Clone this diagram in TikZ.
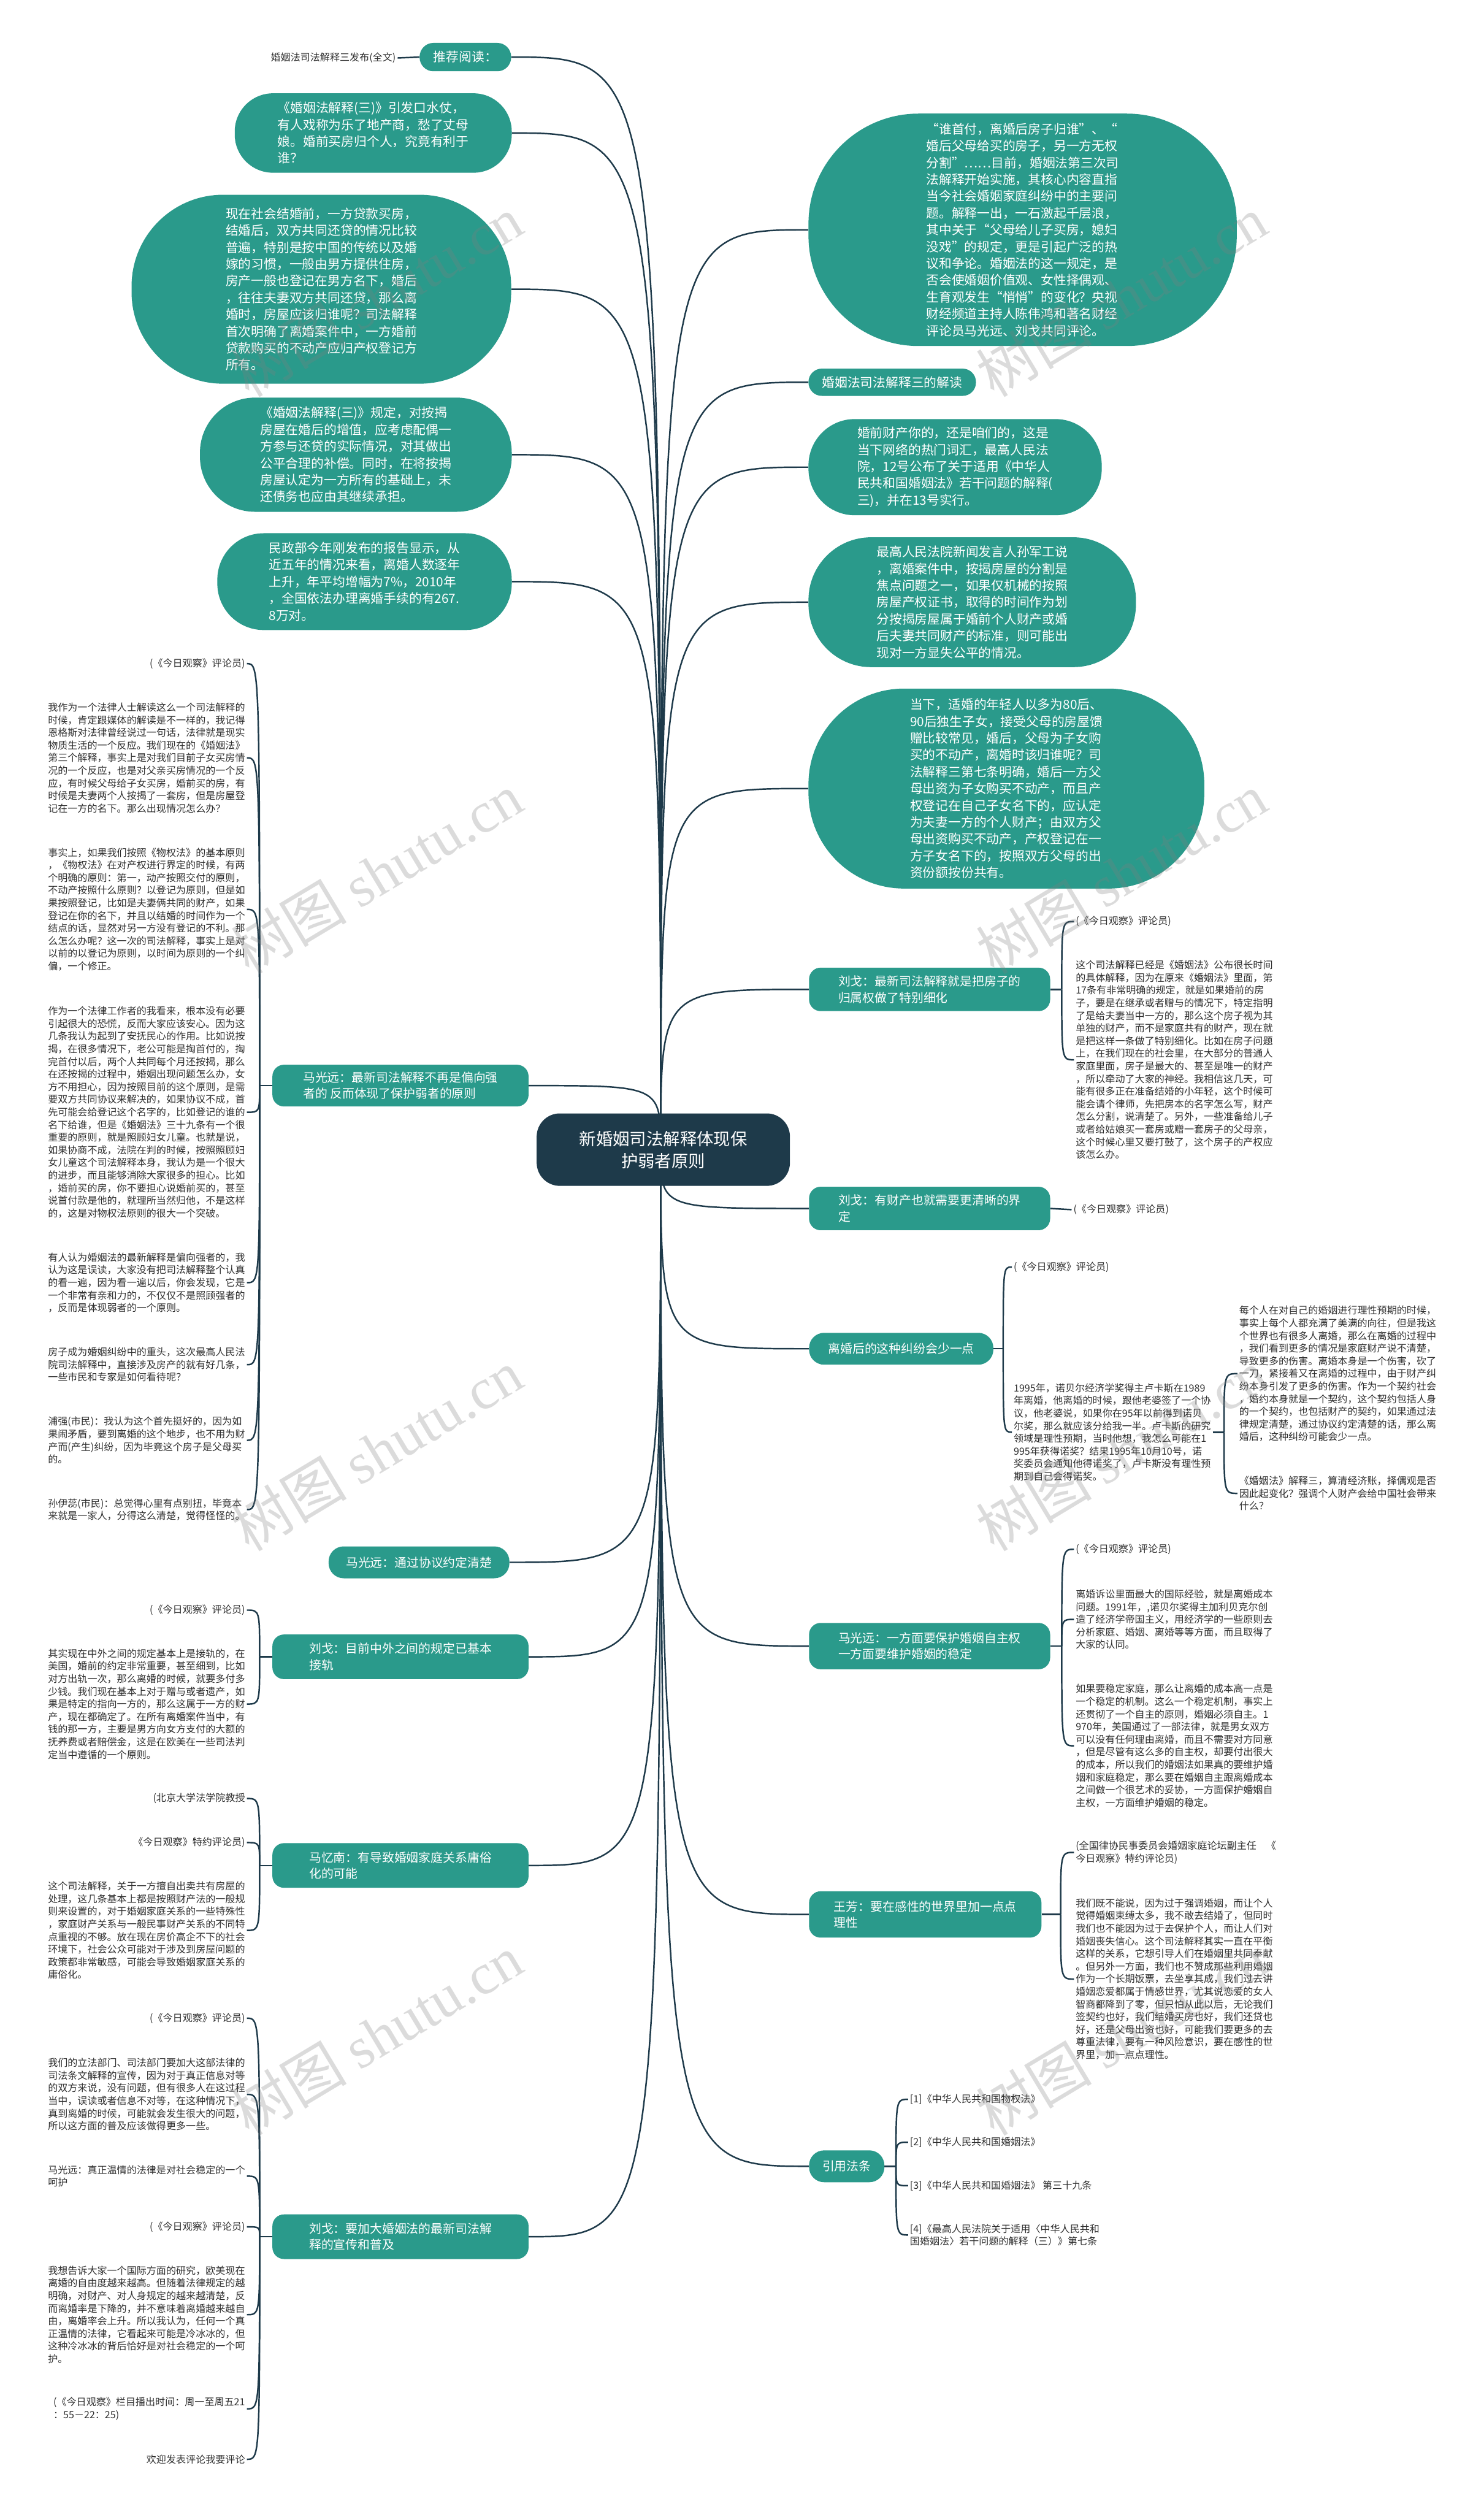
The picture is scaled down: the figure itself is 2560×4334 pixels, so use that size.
\documentclass[tikz,border=0pt]{standalone}
\usepackage{fontspec}
\setmainfont{Noto Sans CJK SC}
\newfontfamily\wmfont{Liberation Serif}
\definecolor{tealc}{HTML}{2A9A8B}
\definecolor{navyc}{HTML}{1E3A4A}
\definecolor{leafc}{HTML}{2E2E2E}
\pgfdeclarelayer{bg}
\pgfdeclarelayer{paper}
\pgfsetlayers{paper,bg,main}
\tikzset{
  tealnode/.style={fill=tealc, text=white, font=\fontsize{22pt}{29pt}\selectfont, align=left, inner sep=0pt},
  branch/.style={fill=tealc, text=white, font=\fontsize{21pt}{28pt}\selectfont, align=left, inner sep=0pt, rounded corners=20pt},
  leafL/.style={anchor=east, text=leafc, font=\fontsize{17pt}{21.8pt}\selectfont, align=left, inner sep=3pt},
  leafR/.style={anchor=west, text=leafc, font=\fontsize{17pt}{21.8pt}\selectfont, align=left, inner sep=3pt},
  link/.style={draw=navyc, line width=2.6pt},
  wm/.style={text=gray, opacity=0.28, rotate=31, font=\fontsize{100pt}{100pt}\selectfont}
}
\newcommand{\lk}[2]{\draw[link] (#1) .. controls (#1 |- #2) .. (#2);}
\begin{document}
\begin{tikzpicture}[x=1pt,y=-1pt]
\begin{pgfonlayer}{paper}
\fill[white] (0,0) rectangle (2560,4334);
\end{pgfonlayer}
\useasboundingbox (0,0) rectangle (2560,4334);
\coordinate (C) at (1140,1983);

% ---------- top-left teal nodes ----------
\node[tealnode, minimum width=158pt, minimum height=49pt, rounded corners=24pt] (tj) at (803,98.5) {推荐阅读：};
\node[leafL] (tja) at (686,100) {婚姻法司法解释三发布(全文)};
\node[tealnode, minimum width=478pt, minimum height=137pt, rounded corners=66pt] (ks) at (644,229.5) {《婚姻法解释(三)》引发口水仗，\\有人戏称为乐了地产商，愁了丈母\\娘。婚前买房归个人，究竟有利于\\谁？};
\node[tealnode, minimum width=655pt, minimum height=326pt, rounded corners=158pt] (xz) at (554.5,499) {现在社会结婚前，一方贷款买房，\\结婚后，双方共同还贷的情况比较\\普遍，特别是按中国的传统以及婚\\嫁的习惯，一般由男方提供住房，\\房产一般也登记在男方名下，婚后\\，往往夫妻双方共同还贷，那么离\\婚时，房屋应该归谁呢？司法解释\\首次明确了离婚案件中，一方婚前\\贷款购买的不动产应归产权登记方\\所有。};
\node[tealnode, minimum width=538pt, minimum height=197pt, rounded corners=95pt] (gd) at (614,784.5) {《婚姻法解释(三)》规定，对按揭\\房屋在婚后的增值，应考虑配偶一\\方参与还贷的实际情况，对其做出\\公平合理的补偿。同时，在将按揭\\房屋认定为一方所有的基础上，未\\还债务也应由其继续承担。};
\node[tealnode, minimum width=508pt, minimum height=167pt, rounded corners=80pt] (mz) at (629,1003.5) {民政部今年刚发布的报告显示，从\\近五年的情况来看，离婚人数逐年\\上升，年平均增幅为7\%，2010年\\，全国依法办理离婚手续的有267.\\8万对。};

% ---------- top-right teal nodes ----------
\node[tealnode, minimum width=739pt, minimum height=401pt, rounded corners=190pt] (ss) at (1764.5,396.5) {“谁首付，离婚后房子归谁”、“\\婚后父母给买的房子，另一方无权\\分割”……目前，婚姻法第三次司\\法解释开始实施，其核心内容直指\\当今社会婚姻家庭纠纷中的主要问\\题。解释一出，一石激起千层浪，\\其中关于“父母给儿子买房，媳妇\\没戏”的规定，更是引起广泛的热\\议和争论。婚姻法的这一规定，是\\否会使婚姻价值观、女性择偶观、\\生育观发生“悄悄”的变化？央视\\财经频道主持人陈伟鸿和著名财经\\评论员马光远、刘戈共同评论。};
\node[tealnode, minimum width=289pt, minimum height=47pt, rounded corners=23pt] (jd) at (1539.5,659.5) {婚姻法司法解释三的解读};
\node[tealnode, minimum width=506pt, minimum height=166pt, rounded corners=80pt] (hq) at (1648,806) {婚前财产你的，还是咱们的，这是\\当下网络的热门词汇，最高人民法\\院，12号公布了关于适用《中华人\\民共和国婚姻法》若干问题的解释(\\三)，并在13号实行。};
\node[tealnode, minimum width=565pt, minimum height=224pt, rounded corners=108pt] (zg) at (1677.5,1039) {最高人民法院新闻发言人孙军工说\\，离婚案件中，按揭房屋的分割是\\焦点问题之一，如果仅机械的按照\\房屋产权证书，取得的时间作为划\\分按揭房屋属于婚前个人财产或婚\\后夫妻共同财产的标准，则可能出\\现对一方显失公平的情况。};
\node[tealnode, minimum width=683pt, minimum height=345pt, rounded corners=165pt] (dx) at (1736.5,1360.5) {当下，适婚的年轻人以多为80后、\\90后独生子女，接受父母的房屋馈\\赠比较常见，婚后，父母为子女购\\买的不动产，离婚时该归谁呢？司\\法解释三第七条明确，婚后一方父\\母出资为子女购买不动产，而且产\\权登记在自己子女名下的，应认定\\为夫妻一方的个人财产；由双方父\\母出资购买不动产，产权登记在一\\方子女名下的，按照双方父母的出\\资份额按份共有。};

% ---------- center ----------
\node[fill=navyc, text=white, font=\fontsize{29pt}{38pt}\selectfont, align=center, minimum width=437pt, minimum height=125pt, rounded corners=40pt, inner sep=0pt] (C0) at (1144.5,1983.5) {新婚姻司法解释体现保\\护弱者原则};

% ---------- branch nodes ----------
\node[branch, minimum width=442pt, minimum height=72pt] (L1) at (691,1873) {马光远：最新司法解释不再是偏向强\\者的 反而体现了保护弱者的原则};
\node[branch, minimum width=312pt, minimum height=55pt, rounded corners=26pt] (L2) at (723,2695.5) {马光远：通过协议约定清楚};
\node[branch, minimum width=442pt, minimum height=77pt] (L3) at (691,2858.5) {刘戈：目前中外之间的规定已基本\\接轨};
\node[branch, minimum width=442pt, minimum height=77pt] (L4) at (691,3218.5) {马忆南：有导致婚姻家庭关系庸俗\\化的可能};
\node[branch, minimum width=442pt, minimum height=77pt] (L5) at (691,3859) {刘戈：要加大婚姻法的最新司法解\\释的宣传和普及};

\node[branch, minimum width=416pt, minimum height=75pt] (R6) at (1604,1707) {刘戈：最新司法解释就是把房子的\\归属权做了特别细化};
\node[branch, minimum width=416pt, minimum height=75pt] (R7) at (1604,2085) {刘戈：有财产也就需要更清晰的界\\定};
\node[branch, minimum width=318pt, minimum height=55pt, rounded corners=26pt] (R8) at (1555,2327) {离婚后的这种纠纷会少一点};
\node[branch, minimum width=416pt, minimum height=80pt] (R9) at (1604,2840) {马光远：一方面要保护婚姻自主权\\一方面要维护婚姻的稳定};
\node[branch, minimum width=401pt, minimum height=80pt] (R10) at (1596.5,3303) {王芳：要在感性的世界里加一点点\\理性};
\node[branch, minimum width=130pt, minimum height=55pt, rounded corners=26pt] (R11) at (1461,3737.5) {引用法条};

% ---------- left leaves ----------
\node[leafL] (a1) at (426,1145) {(《今日观察》评论员)};
\node[leafL] (a2) at (426,1307.5) {我作为一个法律人士解读这么一个司法解释的\\时候，肯定跟媒体的解读是不一样的，我记得\\恩格斯对法律曾经说过一句话，法律就是现实\\物质生活的一个反应。我们现在的《婚姻法》\\第三个解释，事实上是对我们目前子女买房情\\况的一个反应，也是对父亲买房情况的一个反\\应，有时候父母给子女买房，婚前买的房，有\\时候是夫妻两个人按揭了一套房，但是房屋登\\记在一方的名下。那么出现情况怎么办？};
\node[leafL] (a3) at (426,1569) {事实上，如果我们按照《物权法》的基本原则\\，《物权法》在对产权进行界定的时候，有两\\个明确的原则：第一，动产按照交付的原则，\\不动产按照什么原则？以登记为原则，但是如\\果按照登记，比如是夫妻俩共同的财产，如果\\登记在你的名下，并且以结婚的时间作为一个\\结点的话，显然对另一方没有登记的不利。那\\么怎么办呢？这一次的司法解释，事实上是对\\以前的以登记为原则，以时间为原则的一个纠\\偏，一个修正。};
\node[leafL] (a4) at (426,1919) {作为一个法律工作者的我看来，根本没有必要\\引起很大的恐慌，反而大家应该安心。因为这\\几条我认为起到了安抚民心的作用。比如说按\\揭，在很多情况下，老公可能是掏首付的，掏\\完首付以后，两个人共同每个月还按揭，那么\\在还按揭的过程中，婚姻出现问题怎么办，女\\方不用担心，因为按照目前的这个原则，是需\\要双方共同协议来解决的，如果协议不成，首\\先可能会给登记这个名字的，比如登记的谁的\\名下给谁，但是《婚姻法》三十九条有一个很\\重要的原则，就是照顾妇女儿童。也就是说，\\如果协商不成，法院在判的时候，按照照顾妇\\女儿童这个司法解释本身，我认为是一个很大\\的进步，而且能够消除大家很多的担心。比如\\，婚前买的房，你不要担心说婚前买的，甚至\\说首付款是他的，就理所当然归他，不是这样\\的，这是对物权法原则的很大一个突破。};
\node[leafL] (a5) at (426,2213) {有人认为婚姻法的最新解释是偏向强者的，我\\认为这是误读，大家没有把司法解释整个认真\\的看一遍，因为看一遍以后，你会发现，它是\\一个非常有亲和力的，不仅仅不是照顾强者的\\，反而是体现弱者的一个原则。};
\node[leafL] (a6) at (426,2354.5) {房子成为婚姻纠纷中的重头，这次最高人民法\\院司法解释中，直接涉及房产的就有好几条，\\一些市民和专家是如何看待呢？};
\node[leafL] (a7) at (426,2485) {浦强(市民)：我认为这个首先挺好的，因为如\\果闹矛盾，要到离婚的这个地步，也不用为财\\产而(产生)纠纷，因为毕竟这个房子是父母买\\的。};
\node[leafL] (a8) at (426,2604.5) {孙伊蕊(市民)：总觉得心里有点别扭，毕竟本\\来就是一家人，分得这么清楚，觉得怪怪的。};

\node[leafL] (b1) at (426,2778) {(《今日观察》评论员)};
\node[leafL] (b2) at (426,2940) {其实现在中外之间的规定基本上是接轨的，在\\美国，婚前的约定非常重要，甚至细到，比如\\对方出轨一次，那么离婚的时候，就要多付多\\少钱。我们现在基本上对于赠与或者遗产，如\\果是特定的指向一方的，那么这属于一方的财\\产，现在都确定了。在所有离婚案件当中，有\\钱的那一方，主要是男方向女方支付的大额的\\抚养费或者赔偿金，这是在欧美在一些司法判\\定当中遵循的一个原则。};

\node[leafL] (c1) at (426,3103) {(北京大学法学院教授};
\node[leafL] (c2) at (426,3179) {《今日观察》特约评论员)};
\node[leafL] (c3) at (426,3330.5) {这个司法解释，关于一方擅自出卖共有房屋的\\处理，这几条基本上都是按照财产法的一般规\\则来设置的，对于婚姻家庭关系的一些特殊性\\，家庭财产关系与一般民事财产关系的不同特\\点重视的不够。放在现在房价高企不下的社会\\环境下，社会公众可能对于涉及到房屋问题的\\政策都非常敏感，可能会导致婚姻家庭关系的\\庸俗化。};

\node[leafL] (d1) at (426,3482) {(《今日观察》评论员)};
\node[leafL] (d2) at (426,3613.5) {我们的立法部门、司法部门要加大这部法律的\\司法条文解释的宣传，因为对于真正信息对等\\的双方来说，没有问题，但有很多人在这过程\\当中，误读或者信息不对等，在这种情况下，\\真到离婚的时候，可能就会发生很大的问题，\\所以这方面的普及应该做得更多一些。};
\node[leafL] (d3) at (426,3754.5) {马光远：真正温情的法律是对社会稳定的一个\\呵护};
\node[leafL] (d4) at (426,3842) {(《今日观察》评论员)};
\node[leafL] (d5) at (426,3993.5) {我想告诉大家一个国际方面的研究，欧美现在\\离婚的自由度越来越高。但随着法律规定的越\\明确，对财产、对人身规定的越来越清楚，反\\而离婚率是下降的，并不意味着离婚越来越自\\由，离婚率会上升。所以我认为，任何一个真\\正温情的法律，它看起来可能是冷冰冰的，但\\这种冷冰冰的背后恰好是对社会稳定的一个呵\\护。};
\node[leafL] (d6) at (426,4156) {(《今日观察》栏目播出时间：周一至周五21\\：55－22：25)};
\node[leafL] (d7) at (426,4243) {欢迎发表评论我要评论};

% ---------- right leaves ----------
\node[leafR] (e1) at (1853,1590) {(《今日观察》评论员)};
\node[leafR] (e2) at (1853,1828.5) {这个司法解释已经是《婚姻法》公布很长时间\\的具体解释，因为在原来《婚姻法》里面，第\\17条有非常明确的规定，就是如果婚前的房\\子，要是在继承或者赠与的情况下，特定指明\\了是给夫妻当中一方的，那么这个房子视为其\\单独的财产，而不是家庭共有的财产，现在就\\是把这样一条做了特别细化。比如在房子问题\\上，在我们现在的社会里，在大部分的普通人\\家庭里面，房子是最大的、甚至是唯一的财产\\，所以牵动了大家的神经。我相信这几天，可\\能有很多正在准备结婚的小年轻，这个时候可\\能会请个律师，先把房本的名字怎么写，财产\\怎么分割，说清楚了。另外，一些准备给儿子\\或者给姑娘买一套房或赠一套房子的父母亲，\\这个时候心里又要打鼓了，这个房子的产权应\\该怎么办。};
\node[leafR] (f1) at (1849,2087) {(《今日观察》评论员)};
\node[leafR] (g1) at (1746,2186) {(《今日观察》评论员)};
\node[leafR] (g2) at (1746,2471) {1995年，诺贝尔经济学奖得主卢卡斯在1989\\年离婚，他离婚的时候，跟他老婆签了一个协\\议，他老婆说，如果你在95年以前得到诺贝\\尔奖，那么就应该分给我一半。卢卡斯的研究\\领域是理性预期，当时他想，我怎么可能在1\\995年获得诺奖？结果1995年10月10号，诺\\奖委员会通知他得诺奖了，卢卡斯没有理性预\\期到自己会得诺奖。};
\node[leafR] (g3) at (2135,2370) {每个人在对自己的婚姻进行理性预期的时候，\\事实上每个人都充满了美满的向往，但是我这\\个世界也有很多人离婚，那么在离婚的过程中\\，我们看到更多的情况是家庭财产说不清楚，\\导致更多的伤害。离婚本身是一个伤害，砍了\\一刀，紧接着又在离婚的过程中，由于财产纠\\纷本身引发了更多的伤害。作为一个契约社会\\，婚约本身就是一个契约，这个契约包括人身\\的一个契约，也包括财产的契约，如果通过法\\律规定清楚，通过协议约定清楚的话，那么离\\婚后，这种纠纷可能会少一点。};
\node[leafR] (g4) at (2135,2576.5) {《婚姻法》解释三，算清经济账，择偶观是否\\因此起变化？强调个人财产会给中国社会带来\\什么？};
\node[leafR] (h1) at (1853,2673) {(《今日观察》评论员)};
\node[leafR] (h2) at (1853,2794) {离婚诉讼里面最大的国际经验，就是离婚成本\\问题。1991年，,诺贝尔奖得主加利贝克尔创\\造了经济学帝国主义，用经济学的一些原则去\\分析家庭、婚姻、离婚等等方面，而且取得了\\大家的认同。};
\node[leafR] (h3) at (1853,3012) {如果要稳定家庭，那么让离婚的成本高一点是\\一个稳定的机制。这么一个稳定机制，事实上\\还贯彻了一个自主的原则，婚姻必须自主。1\\970年，美国通过了一部法律，就是男女双方\\可以没有任何理由离婚，而且不需要对方同意\\，但是尽管有这么多的自主权，却要付出很大\\的成本，所以我们的婚姻法如果真的要维护婚\\姻和家庭稳定，那么要在婚姻自主跟离婚成本\\之间做一个很艺术的妥协，一方面保护婚姻自\\主权，一方面维护婚姻的稳定。};
\node[leafR] (i1) at (1853,3196) {(全国律协民事委员会婚姻家庭论坛副主任　《\\今日观察》特约评论员)};
\node[leafR] (i2) at (1853,3414.5) {我们既不能说，因为过于强调婚姻，而让个人\\觉得婚姻束缚太多，我不敢去结婚了，但同时\\我们也不能因为过于去保护个人，而让人们对\\婚姻丧失信心。这个司法解释其实一直在平衡\\这样的关系，它想引导人们在婚姻里共同奉献\\。但另外一方面，我们也不赞成那些利用婚姻\\作为一个长期饭票，去坐享其成，我们过去讲\\婚姻恋爱都属于情感世界，尤其说恋爱的女人\\智商都降到了零，但只怕从此以后，无论我们\\签契约也好，我们结婚买房也好，我们还贷也\\好，还是父母出资也好，可能我们要更多的去\\尊重法律，要有一种风险意识，要在感性的世\\界里，加一点点理性。};
\node[leafR] (j1) at (1567,3622) {[1]《中华人民共和国物权法》};
\node[leafR] (j2) at (1567,3696) {[2]《中华人民共和国婚姻法》};
\node[leafR] (j3) at (1567,3771) {[3]《中华人民共和国婚姻法》 第三十九条};
\node[leafR] (j4) at (1567,3856) {[4]《最高人民法院关于适用〈中华人民共和\\国婚姻法〉若干问题的解释（三）》第七条};

% ---------- connectors ----------
\begin{pgfonlayer}{bg}
\foreach \n in {tj,ks,xz,gd,mz,L1,L2,L3,L4,L5} {\lk{C}{\n.east}}
\foreach \n in {ss,jd,hq,zg,dx,R6,R7,R8,R9,R10,R11} {\lk{C}{\n.west}}
\draw[link] (tj.west) -- (tja.east);
\draw[link] (R7.east) -- (f1.west);
\coordinate (jL1) at (448,1873);
\draw[link] (L1.west) -- (jL1);
\foreach \n in {a1,a2,a3,a4,a5,a6,a7,a8} {\lk{jL1}{\n.east}}
\coordinate (jL3) at (448,2858.5);
\draw[link] (L3.west) -- (jL3);
\foreach \n in {b1,b2} {\lk{jL3}{\n.east}}
\coordinate (jL4) at (448,3218.5);
\draw[link] (L4.west) -- (jL4);
\foreach \n in {c1,c2,c3} {\lk{jL4}{\n.east}}
\coordinate (jL5) at (448,3859);
\draw[link] (L5.west) -- (jL5);
\foreach \n in {d1,d2,d3,d4,d5,d6,d7} {\lk{jL5}{\n.east}}
\coordinate (jR6) at (1832,1707);
\draw[link] (R6.east) -- (jR6);
\foreach \n in {e1,e2} {\lk{jR6}{\n.west}}
\coordinate (jR8) at (1731,2327);
\draw[link] (R8.east) -- (jR8);
\foreach \n in {g1,g2} {\lk{jR8}{\n.west}}
\coordinate (jG2) at (2112,2471);
\draw[link] (g2.east) -- (jG2);
\foreach \n in {g3,g4} {\lk{jG2}{\n.west}}
\coordinate (jR9) at (1832,2840);
\draw[link] (R9.east) -- (jR9);
\foreach \n in {h1,h2,h3} {\lk{jR9}{\n.west}}
\coordinate (jR10) at (1830,3303);
\draw[link] (R10.east) -- (jR10);
\foreach \n in {i1,i2} {\lk{jR10}{\n.west}}
\coordinate (jR11) at (1546,3737.5);
\draw[link] (R11.east) -- (jR11);
\foreach \n in {j1,j2,j3,j4} {\lk{jR11}{\n.west}}
\end{pgfonlayer}

% ---------- watermarks ----------
\foreach \wx/\wy in {650/511,1935/511,650/1507,1935/1507,650/2502,1935/2502,650/3511,1935/3511}
  \node[wm] at (\wx,\wy) {树图 {\wmfont shutu.cn}};
\end{tikzpicture}
\end{document}
